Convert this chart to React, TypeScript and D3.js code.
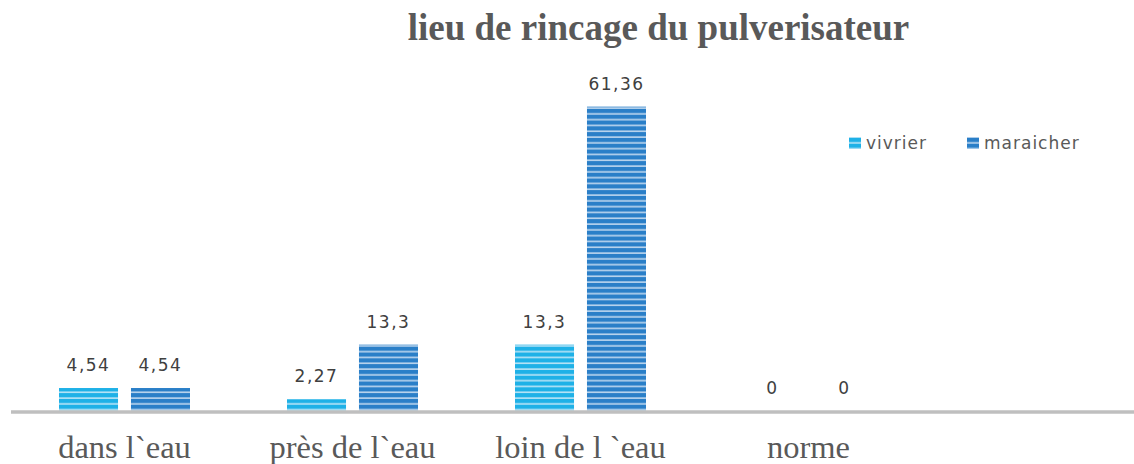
import React from "react";
import * as d3 from "d3";

const categories = ["dans l`eau", "près de l`eau", "loin de l `eau", "norme"];
const seriesNames = ["vivrier", "maraicher"];
const vivrier = [4.54, 2.27, 13.3, 0];
const maraicher = [4.54, 13.3, 61.36, 0];
const valueLabels = [
  ["4,54", "2,27", "13,3", "0"],
  ["4,54", "13,3", "61,36", "0"],
];
const seriesValues = [vivrier, maraicher];

const W = 1134;
const H = 464;
const colors = ["#1EB1E7", "#2A7FC8"];
const stripeColors = ["#B9E4F6", "#BCD6EE"];
const sans = "'DejaVu Sans', Lato, sans-serif";
const serif = "'Liberation Serif', 'Times New Roman', serif";

export default function App() {
  const baseline = 410.5;
  const x0 = d3.scaleBand<string>().domain(categories).range([10.5, 922.5]);
  const x1 = d3
    .scaleBand<string>()
    .domain(seriesNames)
    .range([0, 131])
    .paddingInner(0.18);
  const y = d3.scaleLinear().domain([0, 70]).range([baseline, baseline - 70 * 4.952]);

  return (
    <div style={{ position: "fixed", left: 0, top: 0, width: W, height: H, overflow: "hidden" }}>
      <svg width={W} height={H} style={{ display: "block", background: "#fff" }}>
        <defs>
          {seriesNames.map((s, i) => (
            <pattern
              key={s}
              id={`stripe-${i}`}
              patternUnits="userSpaceOnUse"
              x={0}
              y={baseline}
              width={8}
              height={5.8}
            >
              <rect x={0} y={0} width={8} height={5.8} fill={colors[i]} />
              <rect x={0} y={4.2} width={8} height={1.6} fill={stripeColors[i]} />
            </pattern>
          ))}
        </defs>
        <text
          x={658.5}
          y={40}
          textAnchor="middle"
          fontFamily={serif}
          fontWeight="bold"
          fontSize={37}
          fill="#595959"
        >
          lieu de rincage du pulverisateur
        </text>
        {categories.map((c, ci) => {
          const cx = (x0(c) as number) + x0.bandwidth() / 2;
          return (
            <g key={c}>
              {seriesNames.map((s, si) => {
                const v = seriesValues[si][ci];
                const bx = cx - 65.5 + (x1(s) as number);
                const top = y(v);
                return (
                  <g key={s}>
                    {v > 0 && (
                      <rect
                        x={bx}
                        y={top}
                        width={x1.bandwidth()}
                        height={baseline - top}
                        fill={`url(#stripe-${si})`}
                      />
                    )}
                    <text
                      x={bx + x1.bandwidth() / 2}
                      y={top - 17}
                      textAnchor="middle"
                      fontFamily={sans}
                      fontSize={17}
                      letterSpacing={1.5}
                      fill="#404040"
                    >
                      {valueLabels[si][ci]}
                    </text>
                  </g>
                );
              })}
              <text
                x={cx}
                y={458}
                textAnchor="middle"
                fontFamily={serif}
                fontSize={32.5}
                fill="#595959"
              >
                {c}
              </text>
            </g>
          );
        })}
        <line x1={11} x2={W} y1={412} y2={412} stroke="#BFBFBF" strokeWidth={3.5} />
        {seriesNames.map((s, i) => {
          const lx = i === 0 ? 849 : 967;
          return (
            <g key={s}>
              <rect x={lx} y={137} width={12} height={12} fill={`url(#stripe-${i})`} />
              <text
                x={lx + 17}
                y={148.5}
                fontFamily={sans}
                fontSize={17}
                letterSpacing={1}
                fill="#595959"
              >
                {s}
              </text>
            </g>
          );
        })}
      </svg>
    </div>
  );
}
